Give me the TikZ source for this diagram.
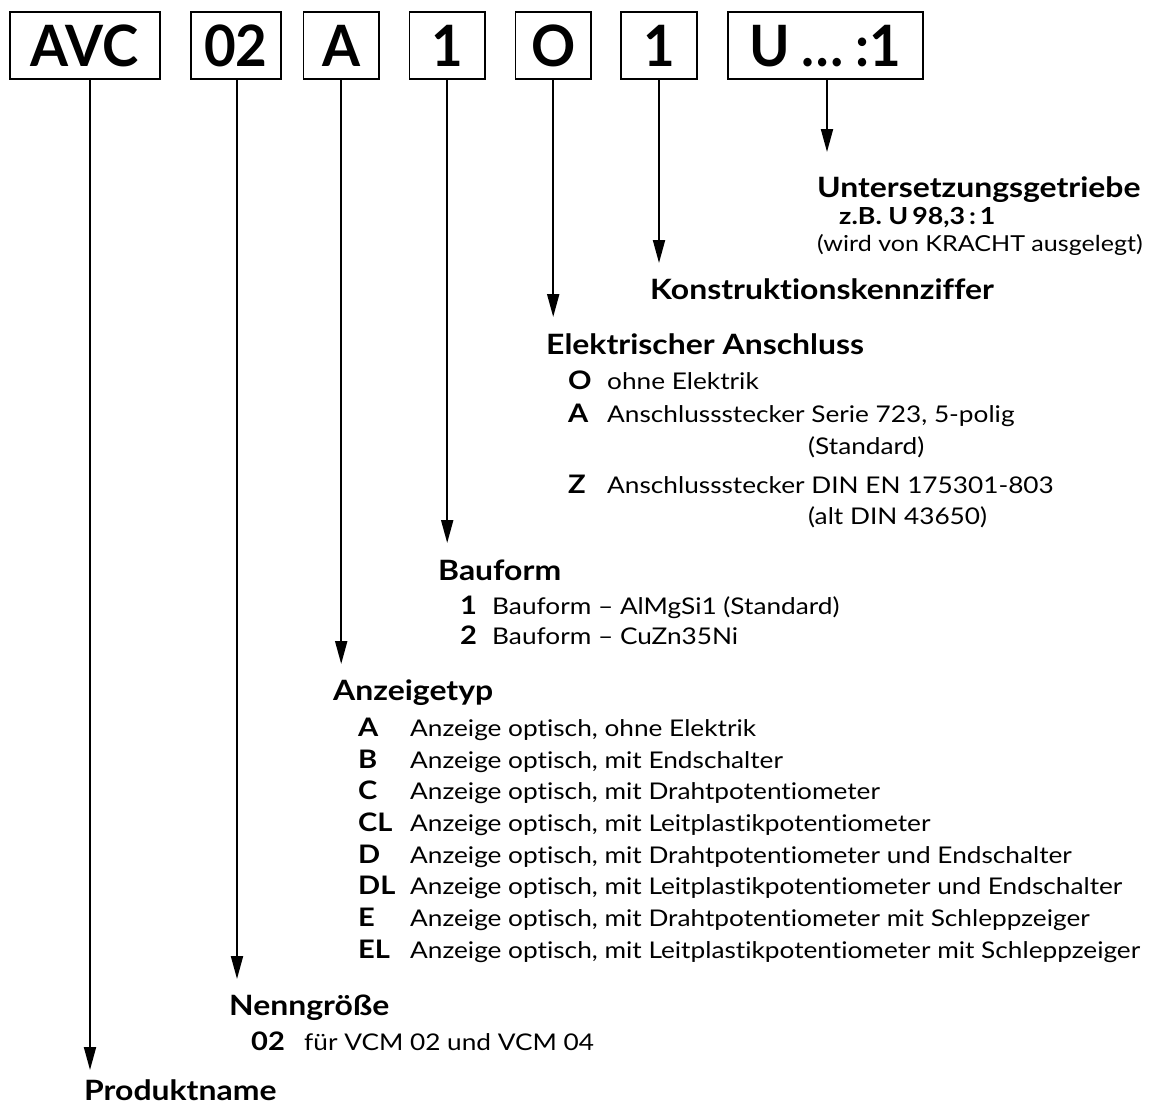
\documentclass[tikz,border=0pt]{standalone}
\usepackage{fontspec}
\setmainfont{Lato}[FakeStretch=1.14, Ligatures=NoCommon]
\newfontfamily\boxfont{Lato}[FakeStretch=0.96, Ligatures=NoCommon]
\usetikzlibrary{arrows.meta}
\begin{document}
\begin{tikzpicture}[x=1pt,y=-1pt,
  codebox/.style={draw, line width=1.8pt, inner sep=0pt, minimum height=67pt,
    font=\boxfont\fontsize{57}{60}\selectfont\bfseries, text height=41pt, text depth=0pt},
  arr/.style={line width=2pt, -{Triangle[length=23pt,width=12pt]}},
  head/.style={anchor=base west, inner sep=0pt, font=\fontsize{28}{32}\selectfont\bfseries},
  body/.style={anchor=base west, inner sep=0pt, font=\fontsize{23}{26}\selectfont},
  keyl/.style={anchor=base west, inner sep=0pt, font=\fontsize{25.5}{28}\selectfont\bfseries},
  small/.style={anchor=base west, inner sep=0pt, font=\fontsize{22}{24}\selectfont},
  smallb/.style={anchor=base west, inner sep=0pt, font=\fontsize{23.5}{26}\selectfont\bfseries},
]
\useasboundingbox (0,0) rectangle (1149,1104);
\clip (0,0) rectangle (1149,1104);

% code boxes
\node[codebox, minimum width=150.4pt] (bAVC) at (84.8,45.5) {AVC};
\node[codebox, minimum width=90.4pt] (b02) at (235.8,45.5) {02};
\node[codebox, minimum width=75.5pt] (bA) at (341.2,45.5) {A};
\node[codebox, minimum width=75.5pt] (b1) at (447.2,45.5) {1};
\node[codebox, minimum width=75.5pt] (bO) at (553.2,45.5) {O};
\node[codebox, minimum width=76pt] (bK) at (659,45.5) {1};
\node[codebox, minimum width=195pt] (bU) at (825.5,45.5) {U\hspace{0.2em}…\hspace{0.2em}:1};

% arrow tips
\coordinate (tU) at (827,152);
\coordinate (tK) at (659,263);
\coordinate (tO) at (553.2,317);
\coordinate (t1) at (447.2,543);
\coordinate (tA) at (341.2,664);
\coordinate (t02) at (237,979);
\coordinate (tAVC) at (90,1070);

\draw[arr] (bU.south -| tU) -- (tU);
\draw[arr] (bK.south) -- (tK);
\draw[arr] (bO.south) -- (tO);
\draw[arr] (b1.south) -- (t1);
\draw[arr] (bA.south) -- (tA);
\draw[arr] (b02.south -| t02) -- (t02);
\draw[arr] (bAVC.south -| tAVC) -- (tAVC);

% Untersetzungsgetriebe
\node[head] (hU) at (817,197) {Untersetzungsgetriebe};
\node[smallb] (u1) at (839,224) {z.B. U\,98,3\,:\,1};
\node[small] (u2) at (817,251) {(wird von KRACHT ausgelegt)};

% Konstruktionskennziffer
\node[head] (hK) at (650,299) {Konstruktionskennziffer};

% Elektrischer Anschluss
\node[head] (hO) at (546,354) {Elektrischer Anschluss};
\node[keyl] (oO) at (568,389) {O};
\node[body] (oOt) at (607,389) {ohne Elektrik};
\node[keyl] (oA) at (568,422) {A};
\node[body] (oAt) at (607,422) {Anschlussstecker Serie 723, 5-polig};
\node[body] (oAt2) at (808,454) {(Standard)};
\node[keyl] (oZ) at (568,493) {Z};
\node[body] (oZt) at (607,493) {Anschlussstecker DIN EN 175301-803};
\node[body] (oZt2) at (808,524) {(alt DIN 43650)};

% Bauform
\node[head] (h1) at (438,580) {Bauform};
\node[keyl] (f1) at (460,614) {1};
\node[body] (f1t) at (492,614) {Bauform – AlMgSi1 (Standard)};
\node[keyl] (f2) at (460,644) {2};
\node[body] (f2t) at (492,644) {Bauform – CuZn35Ni};

% Anzeigetyp
\node[head] (hA) at (333,700) {Anzeigetyp};
\node[keyl] (aA) at (358,736) {A};
\node[body] (aAt) at (410,736) {Anzeige optisch, ohne Elektrik};
\node[keyl] (aB) at (358,768) {B};
\node[body] (aBt) at (410,768) {Anzeige optisch, mit Endschalter};
\node[keyl] (aC) at (358,799) {C};
\node[body] (aCt) at (410,799) {Anzeige optisch, mit Drahtpotentiometer};
\node[keyl] (aCL) at (358,831) {CL};
\node[body] (aCLt) at (410,831) {Anzeige optisch, mit Leitplastikpotentiometer};
\node[keyl] (aD) at (358,863) {D};
\node[body] (aDt) at (410,863) {Anzeige optisch, mit Drahtpotentiometer und Endschalter};
\node[keyl] (aDL) at (358,894) {DL};
\node[body] (aDLt) at (410,894) {Anzeige optisch, mit Leitplastikpotentiometer und Endschalter};
\node[keyl] (aE) at (358,926) {E};
\node[body] (aEt) at (410,926) {Anzeige optisch, mit Drahtpotentiometer mit Schleppzeiger};
\node[keyl] (aEL) at (358,958) {EL};
\node[body] (aELt) at (410,958) {Anzeige optisch, mit Leitplastikpotentiometer mit Schleppzeiger};

% Nenngroesse
\node[head] (h02) at (229,1015) {Nenngröße};
\node[keyl] (n02) at (251,1050) {02};
\node[body] (n02t) at (304,1050) {für VCM 02 und VCM 04};

% Produktname
\node[head] (hAVC) at (84,1100) {Produktname};
\end{tikzpicture}
\end{document}
